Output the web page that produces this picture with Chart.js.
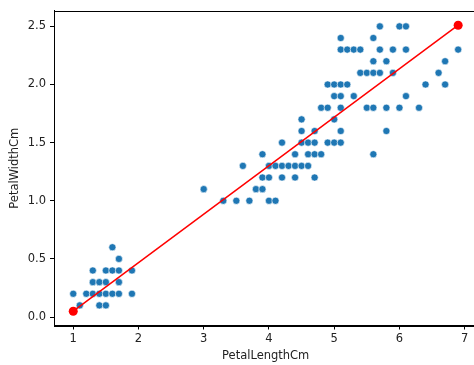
<!DOCTYPE html>
<html>
<head>
<meta charset="utf-8">
<script src="https://cdn.jsdelivr.net/npm/chart.js@4"></script>
<style>
  html, body { margin: 0; padding: 0; background: #fff; overflow: hidden; }
  #wrap { width: 482px; height: 365px; }
</style>
</head>
<body>
<div id="wrap"><canvas id="irisChart" width="482" height="365"></canvas></div>
<script>
// Petal length / width (unique points)
const petalLength = [
  1.0, 1.1, 1.2, 1.3, 1.3, 1.3, 1.4, 1.4, 1.4, 1.5, 1.5, 1.5, 1.5, 1.6, 1.6, 1.6, 1.7, 1.7, 1.7, 1.7, 1.9, 1.9,
  3.3, 3.5, 3.7, 4.0, 4.1,
  3.0, 3.8, 3.9,
  3.9, 4.0, 4.2, 4.4, 4.7,
  3.6, 4.0, 4.1, 4.2, 4.3, 4.4, 4.5, 4.6,
  3.9, 4.4, 4.6, 4.7, 4.8, 5.6,
  4.2, 4.5, 4.6, 4.7, 4.9, 5.0, 5.1,
  4.5, 4.7, 5.1, 5.8,
  4.5, 5.0,
  4.8, 4.9, 5.1, 5.5, 5.6, 5.8, 6.0, 6.3,
  5.0, 5.1, 5.3, 6.1,
  4.9, 5.0, 5.1, 5.2, 6.4, 6.7,
  5.4, 5.5, 5.6, 5.7, 5.9, 6.6,
  5.6, 5.8, 6.7,
  5.1, 5.2, 5.3, 5.4, 5.7, 5.9, 6.1, 6.9,
  5.1, 5.6,
  5.7, 6.0, 6.1
];
const petalWidth = [
  0.2, 0.1, 0.2, 0.2, 0.3, 0.4, 0.1, 0.2, 0.3, 0.1, 0.2, 0.3, 0.4, 0.2, 0.4, 0.6, 0.2, 0.3, 0.4, 0.5, 0.2, 0.4,
  1.0, 1.0, 1.0, 1.0, 1.0,
  1.1, 1.1, 1.1,
  1.2, 1.2, 1.2, 1.2, 1.2,
  1.3, 1.3, 1.3, 1.3, 1.3, 1.3, 1.3, 1.3,
  1.4, 1.4, 1.4, 1.4, 1.4, 1.4,
  1.5, 1.5, 1.5, 1.5, 1.5, 1.5, 1.5,
  1.6, 1.6, 1.6, 1.6,
  1.7, 1.7,
  1.8, 1.8, 1.8, 1.8, 1.8, 1.8, 1.8, 1.8,
  1.9, 1.9, 1.9, 1.9,
  2.0, 2.0, 2.0, 2.0, 2.0, 2.0,
  2.1, 2.1, 2.1, 2.1, 2.1, 2.1,
  2.2, 2.2, 2.2,
  2.3, 2.3, 2.3, 2.3, 2.3, 2.3, 2.3, 2.3,
  2.4, 2.4,
  2.5, 2.5, 2.5
];

// Fitted line end points
const fitX = [1.0, 6.9];
const fitY = [0.05, 2.51];

// Tick labels
const xTicks = [1, 2, 3, 4, 5, 6, 7];
const yTicks = [0.0, 0.5, 1.0, 1.5, 2.0, 2.5];

Chart.defaults.font.family = "'DejaVu Sans', sans-serif";
Chart.defaults.font.size = 11.5;
Chart.defaults.color = "#222";

// Draw the full frame like matplotlib spines
const frameBox = {
  id: "frameBox",
  afterDraw(chart) {
    const { ctx, chartArea: a } = chart;
    ctx.save();
    ctx.strokeStyle = "#000";
    ctx.lineWidth = 1;
    ctx.strokeRect(Math.round(a.left) + 0.5, Math.round(a.top) + 0.5,
      Math.round(a.right - a.left), Math.round(a.bottom - a.top));
    ctx.restore();
  },
};

const ctx = document.getElementById("irisChart");

new Chart(ctx, {
  type: "scatter",
  data: {
    datasets: [
      {
        label: "fit",
        type: "line",
        data: fitX.map((x, i) => ({ x: x, y: fitY[i] })),
        borderColor: "#ff0000",
        borderWidth: 1.5,
        pointRadius: 4.5,
        pointBackgroundColor: "#ff0000",
        pointBorderWidth: 0,
        showLine: true,
        fill: false,
        order: 0,
      },
      {
        label: "iris",
        data: petalLength.map((x, i) => ({ x: x, y: petalWidth[i] })),
        backgroundColor: "#1f77b4",
        borderColor: "#ffffff",
        borderWidth: 0.6,
        pointRadius: 3.6,
        order: 1,
      },
    ],
  },
  options: {
    responsive: false,
    animation: false,
    layout: { padding: { top: 6, right: 1, left: 0, bottom: 0 } },
    plugins: {
      legend: { display: false },
      tooltip: { enabled: false },
    },
    scales: {
      x: {
        type: "linear",
        min: 0.705,
        max: 7.195,
        afterBuildTicks: (axis) => { axis.ticks = xTicks.map((v) => ({ value: v })); },
        afterFit: (axis) => { axis.height = 39.5; },
        ticks: { padding: 3, callback: (v) => String(v), maxRotation: 0 },
        grid: { display: true, drawOnChartArea: false, drawTicks: true, tickLength: 4, color: "#000" },
        border: { display: true, color: "#000" },
        title: { display: true, text: "PetalLengthCm", padding: { top: 4, bottom: 2 } },
      },
      y: {
        type: "linear",
        min: -0.073,
        max: 2.633,
        afterBuildTicks: (axis) => { axis.ticks = yTicks.map((v) => ({ value: v })); },
        afterFit: (axis) => { axis.width = 54; },
        ticks: { padding: 4, callback: (v) => v.toFixed(1) },
        grid: { display: true, drawOnChartArea: false, drawTicks: true, tickLength: 4, color: "#000" },
        border: { display: true, color: "#000" },
        title: { display: true, text: "PetalWidthCm", padding: { top: 8, bottom: 4 } },
      },
    },
  },
  plugins: [frameBox],
});
</script>
</body>
</html>
